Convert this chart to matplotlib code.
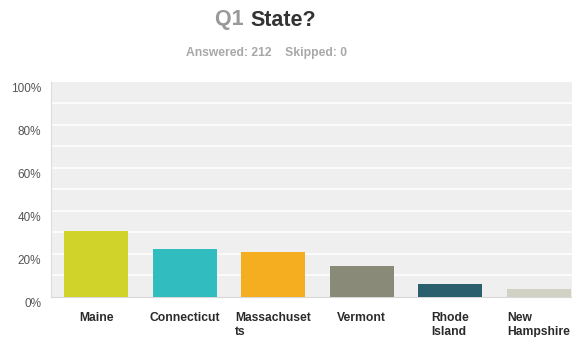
import matplotlib
matplotlib.use("Agg")
import matplotlib.pyplot as plt
import matplotlib.transforms as mtransforms

plt.rcParams['font.family'] = ['Liberation Sans', 'DejaVu Sans']

states = ["Maine", "Connecticut", "Massachuset\nts", "Vermont", "Rhode\nIsland", "New\nHampshire"]
pct = [30.66, 22.17, 20.75, 14.15, 6.13, 3.77]
colors = ["#d0d32a", "#31bcbf", "#f5ae20", "#8a8a78", "#2c5f6e", "#d2d2c4"]
yticks = [0, 20, 40, 60, 80, 100]
ylabels = ["0%", "20%", "40%", "60%", "80%", "100%"]

fig = plt.figure(figsize=(5.72, 3.37), dpi=100)
ax = fig.add_axes([51 / 572, 40.3 / 337, 532 / 572, 214.7 / 337])
ax.set_facecolor("#efefef")

x = list(range(len(states)))
ax.bar(x, pct, width=0.72, color=colors, zorder=3)

ax.set_xlim(-0.51, 5.5)
ax.set_ylim(0, 100)

# white grid every 10%
for v in range(10, 100, 10):
    ax.axhline(v, color="white", lw=1.1, zorder=1)

ax.set_yticks(yticks)
ax.set_yticklabels(ylabels, fontsize=8.5, color="#555555")
ax.tick_params(axis="y", length=0, pad=7)
shift = mtransforms.ScaledTranslation(0, -4 / 72, fig.dpi_scale_trans)
for lbl in ax.get_yticklabels():
    lbl.set_transform(lbl.get_transform() + shift)

ax.set_xticks(x)
ax.set_xticklabels(states, fontsize=8.7, fontweight="bold", color="#2a2a2a",
                   multialignment="left", linespacing=1.25)
ax.tick_params(axis="x", length=0, pad=11)

for side in ["top", "right"]:
    ax.spines[side].set_visible(False)
ax.spines["left"].set_color("#dddddd")
ax.spines["bottom"].set_color("#d8d8d8")

# title: grey question number, dark question text
split = 250 / 572
fig.text(split, 1 - 20 / 337, "Q1 ", ha="right", va="center",
         fontsize=15.5, fontweight="bold", color="#999999")
fig.text(split, 1 - 20 / 337, "State?", ha="left", va="center",
         fontsize=15.5, fontweight="bold", color="#333333")
fig.text(266 / 572, 1 - 53 / 337, "Answered: 212    Skipped: 0", ha="center",
         va="center", fontsize=8.7, fontweight="bold", color="#a8a8a8")

fig.savefig("out.png", dpi=100)
